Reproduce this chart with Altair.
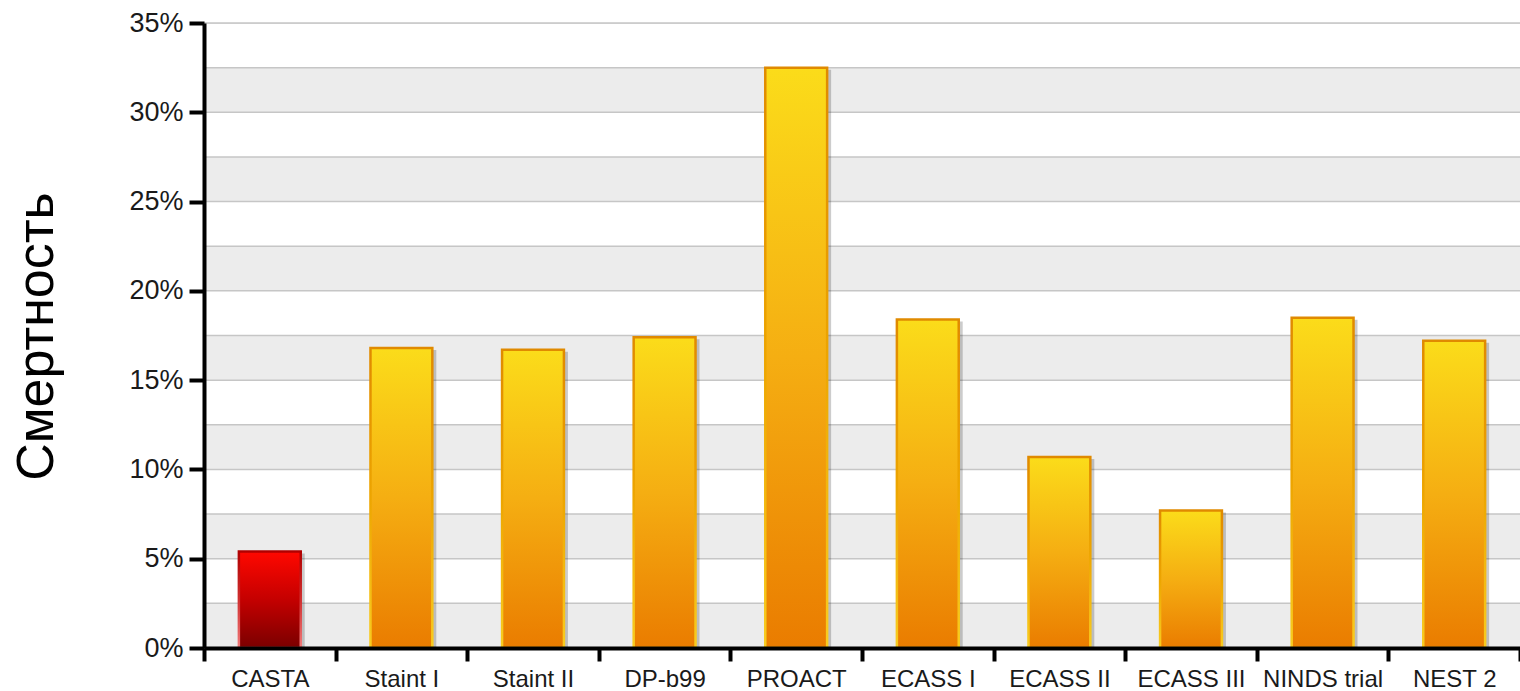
import altair as alt
import pandas as pd

categories = ["CASTA", "Staint I", "Staint II", "DP-b99", "PROACT",
              "ECASS I", "ECASS II", "ECASS III", "NINDS trial", "NEST 2"]
mortality = [5.4, 16.8, 16.7, 17.4, 32.5, 18.4, 10.7, 7.7, 18.5, 17.2]
highlight = ["CASTA"]

band_starts = [0, 5, 10, 15, 20, 25, 30]
grid_values = [2.5, 5, 7.5, 10, 12.5, 15, 17.5, 20, 22.5, 25, 27.5, 30, 32.5, 35]
y_ticks = [0, 5, 10, 15, 20, 25, 30, 35]

df = pd.DataFrame({"study": categories, "value": mortality})
df["hl"] = df["study"].isin(highlight)
bands = pd.DataFrame({"value": band_starts, "value2": [b + 2.5 for b in band_starts]})
grid = pd.DataFrame({"value": grid_values})

FONT = "Liberation Sans"
yscale = alt.Scale(domain=[0, 35], nice=False)
xscale = alt.Scale(domain=categories, paddingInner=0, paddingOuter=0)
BAR_W = alt.RelativeBandSize(0.47)

yaxis = alt.Axis(values=y_ticks, format=".0f", labelExpr="datum.label + '%'",
                 domainColor="#000", domainWidth=4, tickColor="#000",
                 tickWidth=4, tickSize=15, labelFont=FONT, labelFontSize=27,
                 labelColor="#1a1a1a", labelPadding=6, grid=False, zindex=1,
                 titleFont=FONT, titleFontSize=52, titleFontWeight="normal",
                 titleColor="#000", titleAngle=-90, titleAlign="center",
                 titleBaseline="middle", titleX=-168, titleY=313)
xaxis = alt.Axis(tickBand="extent", domainColor="#000", domainWidth=4,
                 tickColor="#000", tickWidth=4, tickSize=13, zindex=1,
                 labelFont=FONT, labelFontSize=24, labelColor="#1a1a1a",
                 labelPadding=6, labelAngle=0, grid=False)

def Y():
    return alt.Y("value:Q", scale=yscale, title="Смертность", axis=yaxis)

def X():
    return alt.X("study:N", scale=xscale, sort=categories, title=None, axis=xaxis)

band_layer = alt.Chart(bands).mark_rect(color="#ececec").encode(
    y=Y(), y2="value2:Q",
    x=alt.value(0), x2=alt.value(1316),
)
grid_layer = alt.Chart(grid).mark_rule(color="#c6c6c6", strokeWidth=1.5).encode(
    y=Y(), x=alt.value(0), x2=alt.value(1316),
)

shadow = alt.Chart(df).mark_bar(color="#000", opacity=0.2, xOffset=4, yOffset=2,
                                width=BAR_W).encode(x=X(), y=Y())

def grad(top, mid, bottom):
    return alt.Gradient(gradient="linear", x1=0, x2=0, y1=0, y2=1, stops=[
        alt.GradientStop(color=top, offset=0),
        alt.GradientStop(color=mid, offset=0.5),
        alt.GradientStop(color=bottom, offset=1),
    ])

yellow = grad("#fbdc1a", "#f5ae12", "#ea7c00")
yellow_stroke = grad("#e08a00", "#eda500", "#f8cc20")
red = grad("#ff0800", "#c40000", "#7a0000")
red_stroke = grad("#b00000", "#d03030", "#f07878")

bars_y = alt.Chart(df).transform_filter("!datum.hl").mark_bar(
    color=yellow, stroke=yellow_stroke, strokeWidth=2.5, width=BAR_W).encode(x=X(), y=Y())
bars_r = alt.Chart(df).transform_filter("datum.hl").mark_bar(
    color=red, stroke=red_stroke, strokeWidth=2.5, width=BAR_W).encode(x=X(), y=Y())

chart = alt.layer(band_layer, grid_layer, shadow, bars_y, bars_r).properties(
    width=1316, height=625,
    autosize=alt.AutoSizeParams(type="none"),
    padding={"left": 204, "top": 23, "right": 0, "bottom": 43},
).configure_view(stroke=None).configure(background="white")

chart.save("out.html", embed_options={"renderer": "svg", "actions": False})
